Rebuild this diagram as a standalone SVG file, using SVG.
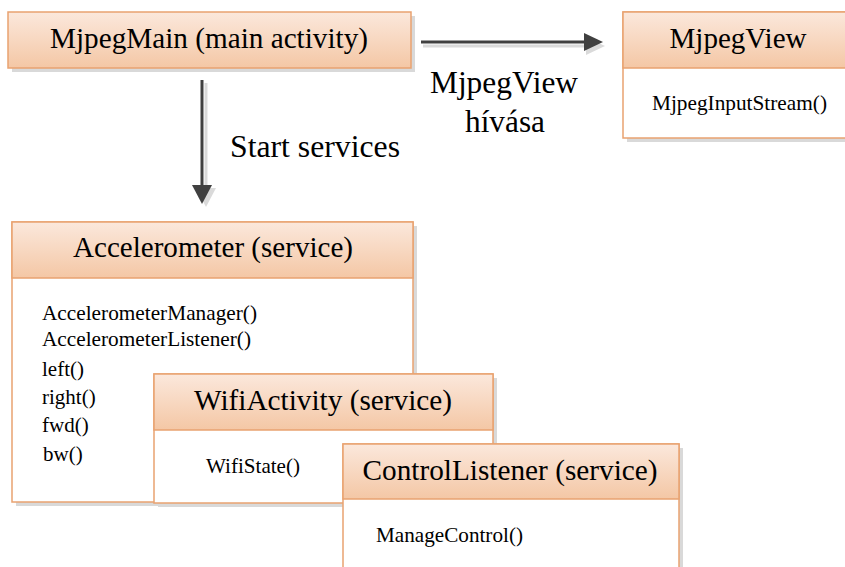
<svg xmlns="http://www.w3.org/2000/svg" width="845" height="567" viewBox="0 0 845 567" font-family="'Liberation Serif', 'Times New Roman', Tinos, 'DejaVu Serif', serif">
<defs>
<linearGradient id="hdr" x1="0" y1="0" x2="0" y2="1">
<stop offset="0" stop-color="#fbe8dc"/>
<stop offset="1" stop-color="#f4c7a5"/>
</linearGradient>
<style>
text{font-family:'Liberation Serif','Times New Roman',Tinos,'DejaVu Serif',serif;fill:#000}
.title{font-size:29px;text-anchor:middle}
.lbl{font-size:30.5px}
.m{font-size:21px}
.hdr{fill:url(#hdr);stroke:#e9a270;stroke-width:1.5}
.body{fill:#fff;stroke:#e9a270;stroke-width:1.5}
.sh{fill:#d9d9d9}
.ln{stroke:#404040;stroke-width:3;fill:none}
.lnsh{stroke:#dadada;stroke-width:3;fill:none}
.hd{fill:#404040}
.hdsh{fill:#dadada}
</style>
</defs>
<rect width="845" height="567" fill="#fff"/>

<g id="connectors">
<line class="lnsh" x1="206" y1="83" x2="206" y2="190"/>
<polygon class="hdsh" points="196,188 216,188 206,207"/>
<line class="ln" x1="202" y1="80" x2="202" y2="187"/>
<polygon class="hd" points="192,185 212,185 202,204"/>
<line class="lnsh" x1="423" y1="46" x2="588" y2="46"/>
<polygon class="hdsh" points="586,37 586,55 605,46"/>
<line class="ln" x1="421" y1="42" x2="586" y2="42"/>
<polygon class="hd" points="584,33 584,51 603,42"/>
<text class="lbl" x="230" y="157" textLength="170" lengthAdjust="spacingAndGlyphs">Start services</text>
<text class="lbl" x="504" y="93" text-anchor="middle" textLength="148" lengthAdjust="spacingAndGlyphs">MjpegView</text>
<text class="lbl" x="505" y="132" text-anchor="middle" textLength="80" lengthAdjust="spacingAndGlyphs">hívása</text>
</g>

<g id="mjpegmain">
<rect class="sh" x="12" y="16" width="403" height="56"/>
<rect class="hdr" x="8" y="12" width="403" height="56"/>
<text class="title" x="209" y="48" textLength="318" lengthAdjust="spacingAndGlyphs">MjpegMain (main activity)</text>
</g>

<g id="mjpegview">
<rect class="sh" x="627" y="16" width="230" height="126"/>
<rect class="body" x="623" y="12" width="230" height="126"/>
<rect class="hdr" x="623" y="12" width="230" height="56"/>
<text class="title" x="738" y="48" textLength="137" lengthAdjust="spacingAndGlyphs">MjpegView</text>
<text class="m" x="652" y="110" textLength="175" lengthAdjust="spacingAndGlyphs">MjpegInputStream()</text>
</g>

<g id="accelerometer">
<rect class="sh" x="16" y="226" width="401" height="280"/>
<rect class="body" x="12" y="222" width="401" height="280"/>
<rect class="hdr" x="12" y="222" width="401" height="56"/>
<text class="title" x="213" y="257" textLength="280" lengthAdjust="spacingAndGlyphs">Accelerometer (service)</text>
<text class="m" x="42" y="320" textLength="215" lengthAdjust="spacingAndGlyphs">AccelerometerManager()</text>
<text class="m" x="42" y="346" textLength="209" lengthAdjust="spacingAndGlyphs">AccelerometerListener()</text>
<text class="m" x="42" y="376">left()</text>
<text class="m" x="42" y="404">right()</text>
<text class="m" x="42" y="432">fwd()</text>
<text class="m" x="43" y="461">bw()</text>
</g>

<g id="wifiactivity">
<rect class="sh" x="158" y="378" width="339" height="129"/>
<rect class="body" x="154" y="374" width="339" height="129"/>
<rect class="hdr" x="154" y="374" width="339" height="56"/>
<text class="title" x="323" y="410" textLength="258" lengthAdjust="spacingAndGlyphs">WifiActivity (service)</text>
<text class="m" x="206" y="473" textLength="94" lengthAdjust="spacingAndGlyphs">WifiState()</text>
</g>

<g id="controllistener">
<rect class="sh" x="347" y="448" width="336" height="140"/>
<rect class="body" x="343" y="444" width="336" height="140"/>
<rect class="hdr" x="343" y="444" width="336" height="55"/>
<text class="title" x="510" y="480" textLength="295" lengthAdjust="spacingAndGlyphs">ControlListener (service)</text>
<text class="m" x="376" y="542" textLength="147" lengthAdjust="spacingAndGlyphs">ManageControl()</text>
</g>
</svg>
